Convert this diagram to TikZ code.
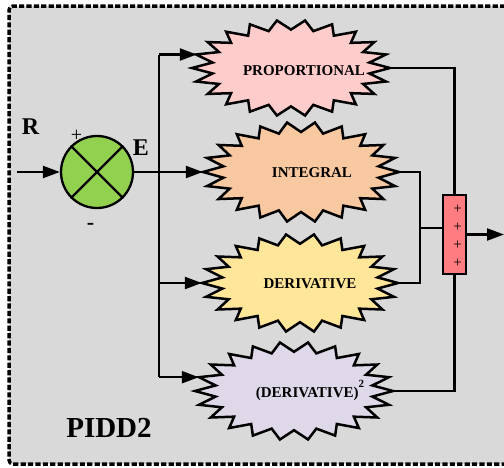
\documentclass[tikz,border=0pt]{standalone}
\usepackage{fontspec}
\setmainfont{Liberation Serif}
\usetikzlibrary{arrows.meta,shapes.geometric}

\definecolor{panel}{HTML}{D9D9D9}
\definecolor{sumgreen}{HTML}{92D050}
\definecolor{propfill}{HTML}{FFCCCC}
\definecolor{intfill}{HTML}{F8C8A0}
\definecolor{derfill}{HTML}{FFE699}
\definecolor{dertwofill}{HTML}{DFD8E8}
\definecolor{blockfill}{HTML}{FF7C80}

% spiky elliptical outline: centre x, centre y, half width, half height, fill
\newcommand{\burstshape}[5]{%
  \draw[burstline, fill=#5] plot[variable=\k, samples at={0,...,43}]
    ({#1+(1-0.2*mod(\k,2))*#3*cos(\k*360/44)},
     {#2+(1-0.2*mod(\k,2))*#4*sin(\k*360/44)}) -- cycle;}

\begin{document}
\begin{tikzpicture}[x=1pt,y=-1pt,
  flow/.style={line width=2.3pt, draw=black},
  arrow/.style={flow, -{Triangle[length=17pt,width=12pt]}},
  burstline/.style={line width=2.5pt, draw=black, line join=miter},
  frame/.style={line width=3.5pt, draw=black, dash pattern=on 5.2pt off 2.2pt},
  anchorbox/.style={ellipse, draw=none, inner sep=0pt},
  blocktext/.style={font=\fontsize{15}{18}\selectfont\bfseries, text=black, anchor=base, inner sep=0pt},
  biglabel/.style={font=\fontsize{24}{28}\selectfont\bfseries, inner sep=0pt},
  plusmark/.style={font=\fontsize{15}{15}\selectfont, text=black, inner sep=0pt}]

\useasboundingbox (0,0) rectangle (504,467);
\clip (0,0) rectangle (504,467);
\fill[white] (0,0) rectangle (504,467);
\fill[panel] (9,6) rectangle (520,464);
\draw[frame, rounded corners=4pt] (520,6) -- (9,6) -- (9,464) -- (520,464);

% summing junction
\node[circle, minimum size=72pt, fill=sumgreen, draw=black, line width=2.3pt, inner sep=0pt] (sum) at (97,172) {};
\draw[flow] (sum.north west) -- (sum.south east);
\draw[flow] (sum.north east) -- (sum.south west);
\node[biglabel, anchor=base] (rlab) at (30.5,134) {R};
\node[biglabel, anchor=base] (elab) at (141,155) {E};
\node[font=\fontsize{20}{20}\selectfont, inner sep=0pt] (plab) at (76.5,136) {+};
\node[font=\fontsize{22}{22}\selectfont\bfseries, inner sep=0pt] (mlab) at (90.5,226) {-};
\node[font=\fontsize{29}{32}\selectfont\bfseries, anchor=base, inner sep=0pt] (title) at (109,437) {PIDD2};

% four controller terms
\burstshape{291}{68}{99}{48}{propfill}
\burstshape{301}{172}{98}{50}{intfill}
\burstshape{300}{283}{98}{49}{derfill}
\burstshape{294}{391}{99}{49}{dertwofill}
\node[anchorbox, minimum width=198pt, minimum height=96pt] (prop) at (291,68) {};
\node[anchorbox, minimum width=196pt, minimum height=100pt] (int) at (301,172) {};
\node[anchorbox, minimum width=196pt, minimum height=98pt] (der) at (300,283) {};
\node[anchorbox, minimum width=198pt, minimum height=98pt] (dertwo) at (294,391) {};
\node[blocktext] (proptext) at (304,75.5) {PROPORTIONAL};
\node[blocktext] (inttext) at (312,177.5) {INTEGRAL};
\node[blocktext] (dertext) at (310,288.5) {DERIVATIVE};
\node[blocktext] (dertwotext) at (310,397.5) {(DERIVATIVE)\raisebox{10pt}{\fontsize{11}{11}\selectfont 2}};

% adder block
\node[rectangle, minimum width=23pt, minimum height=79pt, fill=blockfill, draw=black, line width=2.3pt, inner sep=0pt] (blk) at (454.5,234.5) {};
\node[plusmark] (pa) at (457.5,209) {+};
\node[plusmark] (pb) at (457.5,227) {+};
\node[plusmark] (pc) at (457.5,245) {+};
\node[plusmark] (pd) at (457.5,263) {+};

% signal paths
\coordinate (in) at (17,172);
\coordinate (j) at (159,172);
\coordinate (ptip) at ([shift={(5,-13.5)}]prop.west);
\coordinate (qtip) at ([shift={(4,-13.8)}]dertwo.west);
\coordinate (mx) at (420,228);
\coordinate (out) at (504,234.5);

\draw[arrow] (in) -- (sum.west);
\draw[arrow] (sum.east) -- (int.west);
\draw[flow] (j |- ptip) -- (j |- qtip);
\draw[arrow] (j |- ptip) -- (ptip);
\draw[arrow] (j |- der.west) -- (der.west);
\draw[arrow] (j |- qtip) -- (qtip);

\draw[flow] (prop.east) -| (blk.north);
\draw[flow] (dertwo.east) -| (blk.south);
\draw[flow] (int.east) -| (mx) |- (der.east);
\draw[flow] (mx) -- (mx -| blk.west);
\draw[arrow] (blk.east) -- (out);
\end{tikzpicture}
\end{document}
